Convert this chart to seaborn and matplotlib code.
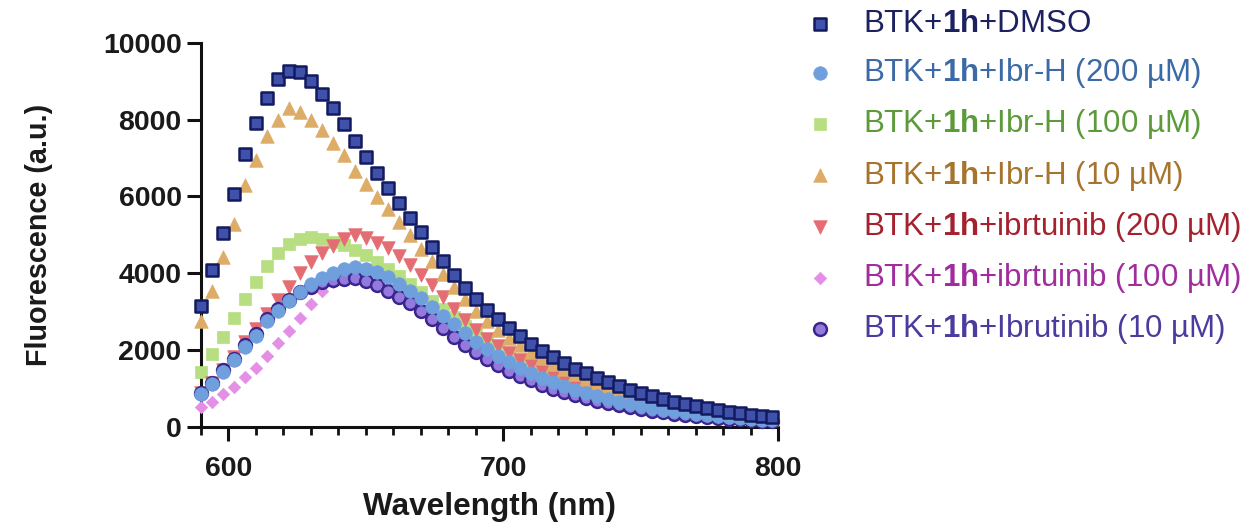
import numpy as np
import pandas as pd
import matplotlib
matplotlib.use("Agg")
import matplotlib.pyplot as plt
import seaborn as sns

# ---------------- data ----------------
wavelength = list(range(590, 799, 4))  # 590 ... 798 nm

dmso = [3160, 4080, 5040, 6050, 7100, 7900, 8550, 9050, 9270, 9230,
        9000, 8660, 8290, 7890, 7450, 7020, 6620, 6230, 5820, 5440,
        5070, 4680, 4310, 3960, 3620, 3320, 3050, 2800, 2570, 2360,
        2160, 1980, 1810, 1660, 1520, 1400, 1280, 1170, 1070, 970,
        880, 800, 730, 660, 600, 540, 490, 440, 400, 360,
        320, 290, 260]

ibrh_200 = [860, 1120, 1430, 1730, 2080, 2380, 2760, 3030, 3290, 3510,
            3720, 3880, 4010, 4100, 4160, 4120, 4020, 3890, 3720, 3550,
            3360, 3130, 2900, 2680, 2440, 2220, 2020, 1840, 1680, 1530,
            1400, 1270, 1160, 1060, 970, 880, 800, 730, 660, 600,
            550, 500, 450, 410, 380, 340, 310, 280, 260, 230,
            210, 190, 170]

ibrh_100 = [1430, 1890, 2340, 2840, 3320, 3770, 4180, 4530, 4770, 4900,
            4940, 4900, 4810, 4730, 4600, 4470, 4290, 4100, 3940, 3730,
            3510, 3290, 3080, 2860, 2640, 2420, 2220, 2030, 1860, 1700,
            1560, 1430, 1310, 1200, 1100, 1000, 920, 840, 770, 700,
            640, 580, 530, 480, 440, 400, 360, 330, 300, 270,
            240, 220, 200]

ibrh_10 = [2770, 3550, 4420, 5290, 6290, 6960, 7560, 7980, 8290, 8200,
           8000, 7720, 7380, 7070, 6660, 6330, 5980, 5670, 5340, 4990,
           4640, 4310, 3990, 3650, 3340, 3030, 2760, 2530, 2320, 2130,
           1950, 1790, 1640, 1500, 1370, 1260, 1150, 1050, 960, 870,
           790, 720, 650, 590, 530, 480, 430, 390, 350, 310,
           280, 250, 220]

ibrutinib_200 = [880, 1150, 1480, 1820, 2200, 2560, 2950, 3300, 3640, 4010,
                 4280, 4530, 4700, 4900, 5000, 4920, 4800, 4650, 4440, 4220,
                 3960, 3690, 3380, 3080, 2790, 2530, 2300, 2100, 1920, 1750,
                 1600, 1460, 1330, 1210, 1100, 1000, 910, 830, 760, 690,
                 630, 570, 520, 470, 430, 390, 350, 320, 290, 260,
                 230, 210, 190]

ibrutinib_100 = [520, 650, 860, 1040, 1300, 1540, 1840, 2180, 2490, 2840,
                 3190, 3550, 3770, 3870, 3860, 3790, 3670, 3520, 3370, 3200,
                 3010, 2790, 2560, 2330, 2120, 1930, 1750, 1590, 1440, 1310,
                 1190, 1080, 980, 890, 810, 740, 670, 610, 550, 500,
                 450, 410, 370, 340, 310, 280, 250, 230, 210, 190,
                 170, 150, 140]

ibrutinib_10 = [880, 1150, 1470, 1780, 2130, 2420, 2800, 3060, 3300, 3500,
                3650, 3760, 3830, 3860, 3880, 3810, 3690, 3540, 3390, 3220,
                3030, 2810, 2580, 2350, 2140, 1950, 1770, 1610, 1460, 1330,
                1210, 1100, 1000, 910, 830, 750, 680, 620, 560, 510,
                460, 420, 380, 350, 320, 290, 260, 240, 220, 200,
                180, 160, 150]

series_keys = ["DMSO", "IbrH200", "IbrH100", "IbrH10", "ibr200", "ibr100", "Ibr10"]
series_values = [dmso, ibrh_200, ibrh_100, ibrh_10, ibrutinib_200, ibrutinib_100, ibrutinib_10]
legend_labels = [
    r"BTK+$\mathbf{1h}$+DMSO",
    r"BTK+$\mathbf{1h}$+Ibr-H (200 µM)",
    r"BTK+$\mathbf{1h}$+Ibr-H (100 µM)",
    r"BTK+$\mathbf{1h}$+Ibr-H (10 µM)",
    r"BTK+$\mathbf{1h}$+ibrtuinib (200 µM)",
    r"BTK+$\mathbf{1h}$+ibrtuinib (100 µM)",
    r"BTK+$\mathbf{1h}$+Ibrutinib (10 µM)",
]

# ---------------- styles ----------------
styles = {
    "DMSO":    dict(marker="s", s=85, face="#3f51a8", edge="#141a60", lw=1.8, z=9, text="#1d215f"),
    "IbrH200": dict(marker="o", s=95, face="#6f9fdc", edge="#6f9fdc", lw=0.5, z=8, text="#3b6aa6"),
    "IbrH100": dict(marker="s", s=80, face="#b7df82", edge="#b7df82", lw=0.5, z=3, text="#5c9a3a"),
    "IbrH10":  dict(marker="^", s=95, face="#ddac66", edge="#ddac66", lw=0.5, z=5, text="#a6742c"),
    "ibr200":  dict(marker="v", s=95, face="#e46d73", edge="#e46d73", lw=0.5, z=4, text="#a4222e"),
    "ibr100":  dict(marker="D", s=40, face="#e48fe6", edge="#e48fe6", lw=0.5, z=6, text="#a02c9e"),
    "Ibr10":   dict(marker="o", s=85, face="#957ade", edge="#3b268f", lw=1.8, z=7, text="#4b3b9f"),
}

rows = []
for key, vals in zip(series_keys, series_values):
    for w, v in zip(wavelength, vals):
        rows.append({"Wavelength": w, "Fluorescence": v, "Series": key})
df = pd.DataFrame(rows)

sns.set_style("ticks")
plt.rcParams["font.family"] = ["Liberation Sans", "DejaVu Sans"]
plt.rcParams["mathtext.fontset"] = "custom"
plt.rcParams["mathtext.rm"] = "Liberation Sans"
plt.rcParams["mathtext.bf"] = "Liberation Sans:bold"
plt.rcParams["mathtext.it"] = "Liberation Sans:italic"

fig = plt.figure(figsize=(12.52, 5.27), dpi=100)
ax = fig.add_axes([0.1605, 0.1898, 0.4609, 0.7292])

handles = {}
for key in series_keys:
    st = styles[key]
    sub = df[df["Series"] == key]
    sns.scatterplot(data=sub, x="Wavelength", y="Fluorescence", ax=ax,
                    marker=st["marker"], s=st["s"], color=st["face"],
                    edgecolor=st["edge"], linewidth=st["lw"], zorder=st["z"],
                    clip_on=False, legend=False)
    handles[key] = ax.collections[-1]

ax.set_xlim(590, 800)
ax.set_ylim(0, 10000)
ax.set_xticks([600, 700, 800])
ax.set_xticks(list(range(590, 801, 10)), minor=True)
ax.set_yticks(list(range(0, 10001, 2000)))

for side in ["top", "right"]:
    ax.spines[side].set_visible(False)
for side in ["left", "bottom"]:
    ax.spines[side].set_linewidth(2.2)
    ax.spines[side].set_color("#111111")

ax.tick_params(axis="both", which="major", length=10, width=2.2, color="#111111",
               labelsize=20.5, pad=4)
ax.tick_params(axis="x", which="minor", length=6, width=2.0, color="#111111")
ax.tick_params(axis="x", which="major", pad=11)
for lab in ax.get_xticklabels() + ax.get_yticklabels():
    lab.set_fontweight("bold")
    lab.set_color("#1a1a1a")

ax.set_xlabel("Wavelength (nm)", fontsize=22.7, fontweight="bold", color="#1a1a1a", labelpad=7)
ax.set_ylabel("Fluorescence (a.u.)", fontsize=20.7, fontweight="bold", color="#1a1a1a", labelpad=36)

leg = ax.legend([handles[k] for k in series_keys], legend_labels,
                loc="upper left", bbox_to_anchor=(0.645, 0.983),
                bbox_transform=fig.transFigure, frameon=False, fontsize=22.5,
                handlelength=0.8, handletextpad=0.98, labelspacing=0.55,
                borderpad=0.0, borderaxespad=0.0, scatterpoints=1)
for t, key in zip(leg.get_texts(), series_keys):
    t.set_color(styles[key]["text"])

fig.savefig("out.png", dpi=100, facecolor="white")
